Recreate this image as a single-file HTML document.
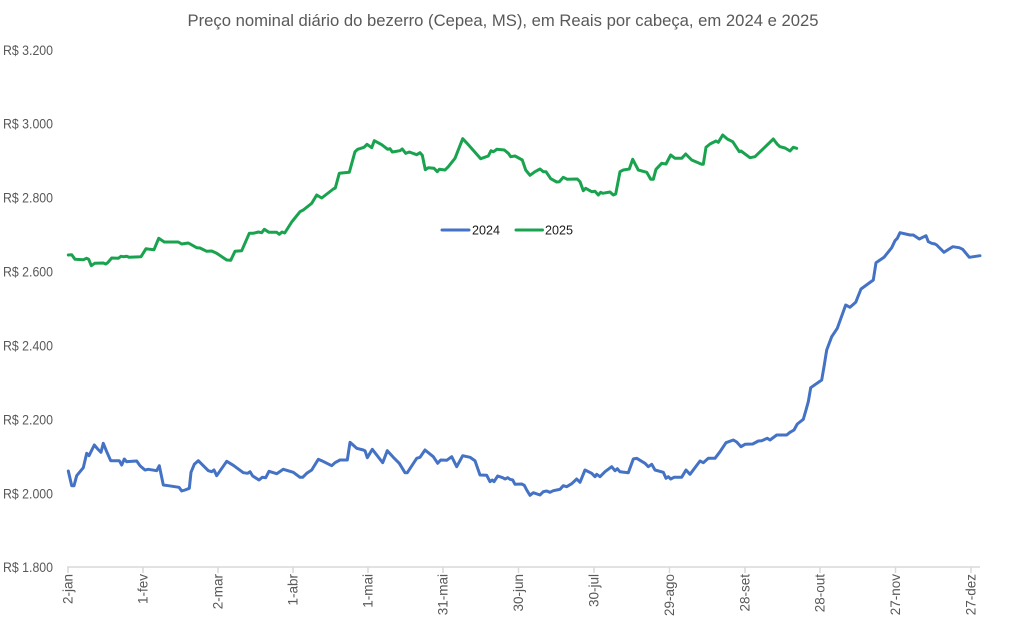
<!DOCTYPE html>
<html>
<head>
<meta charset="utf-8">
<style>
  html, body { margin: 0; padding: 0; background: #ffffff; }
  svg { display: block; }
  text { font-family: "Liberation Sans", "DejaVu Sans", sans-serif; fill: #595959; }
</style>
</head>
<body>
<svg width="1011" height="629" viewBox="0 0 1011 629" xmlns="http://www.w3.org/2000/svg">
  <rect x="0" y="0" width="1011" height="629" fill="#ffffff"/>

  <!-- Title -->
  <text x="503" y="26" font-size="16.5" text-anchor="middle" textLength="631" lengthAdjust="spacingAndGlyphs">Preço nominal diário do bezerro (Cepea, MS), em Reais por cabeça, em 2024 e 2025</text>

  <!-- Y axis labels -->
  <g font-size="14" text-anchor="end">
    <text x="53" y="54.8" textLength="50" lengthAdjust="spacingAndGlyphs">R$ 3.200</text>
    <text x="53" y="128.7" textLength="50" lengthAdjust="spacingAndGlyphs">R$ 3.000</text>
    <text x="53" y="202.6" textLength="50" lengthAdjust="spacingAndGlyphs">R$ 2.800</text>
    <text x="53" y="276.5" textLength="50" lengthAdjust="spacingAndGlyphs">R$ 2.600</text>
    <text x="53" y="350.4" textLength="50" lengthAdjust="spacingAndGlyphs">R$ 2.400</text>
    <text x="53" y="424.4" textLength="50" lengthAdjust="spacingAndGlyphs">R$ 2.200</text>
    <text x="53" y="498.3" textLength="50" lengthAdjust="spacingAndGlyphs">R$ 2.000</text>
    <text x="53" y="572.2" textLength="50" lengthAdjust="spacingAndGlyphs">R$ 1.800</text>
  </g>

  <!-- X axis line and ticks -->
  <g stroke="#d9d9d9" stroke-width="1.5" fill="none">
    <line x1="67" y1="567" x2="980" y2="567"/>
    <line x1="68" y1="567" x2="68" y2="573"/>
    <line x1="143" y1="567" x2="143" y2="573"/>
    <line x1="218" y1="567" x2="218" y2="573"/>
    <line x1="293" y1="567" x2="293" y2="573"/>
    <line x1="368" y1="567" x2="368" y2="573"/>
    <line x1="443" y1="567" x2="443" y2="573"/>
    <line x1="518.5" y1="567" x2="518.5" y2="573"/>
    <line x1="594" y1="567" x2="594" y2="573"/>
    <line x1="669.5" y1="567" x2="669.5" y2="573"/>
    <line x1="745" y1="567" x2="745" y2="573"/>
    <line x1="820" y1="567" x2="820" y2="573"/>
    <line x1="895.5" y1="567" x2="895.5" y2="573"/>
    <line x1="971" y1="567" x2="971" y2="573"/>
  </g>

  <!-- X axis labels (rotated) -->
  <g font-size="13.5" text-anchor="end">
    <text transform="translate(72.5,574) rotate(-90)">2-jan</text>
    <text transform="translate(147.5,574) rotate(-90)">1-fev</text>
    <text transform="translate(222.5,574) rotate(-90)">2-mar</text>
    <text transform="translate(297.5,574) rotate(-90)">1-abr</text>
    <text transform="translate(372.5,574) rotate(-90)">1-mai</text>
    <text transform="translate(447.5,574) rotate(-90)">31-mai</text>
    <text transform="translate(523,574) rotate(-90)">30-jun</text>
    <text transform="translate(598.5,574) rotate(-90)">30-jul</text>
    <text transform="translate(674,574) rotate(-90)">29-ago</text>
    <text transform="translate(749.5,574) rotate(-90)">28-set</text>
    <text transform="translate(824.5,574) rotate(-90)">28-out</text>
    <text transform="translate(900,574) rotate(-90)">27-nov</text>
    <text transform="translate(975.5,574) rotate(-90)">27-dez</text>
  </g>

  <!-- 2025 series (green) -->
  <polyline fill="none" stroke="#1aa34f" stroke-width="3" stroke-linejoin="round" stroke-linecap="round"
    points="68.3,255 71.7,254.7 75,259.3 83.3,259.7 86.7,258.3 88.7,259.3 91.3,265.7 94.7,263.3 103.3,263 105.7,264 107.7,262.7 111.7,258 118.3,258.3 121,256.3 123.3,256.7 126.7,256.3 129.3,257.3 141,256.7 146,248.7 150,249.3 154,249.7 158.7,238.3 164.3,242 178.3,242 181.7,244 188.3,243 196.7,247.7 200,248 206.7,251.3 211.7,251 216.7,253.3 226.7,260 230.7,260.3 235,251.3 241.7,250.7 249.3,233.3 253.3,233.3 258.3,232 261.7,232.7 264.3,229.3 269,232.3 276.7,232.3 279.3,234.3 282,232 284.7,233 291.7,222 300,211.7 303.3,210 311.7,203.3 316.7,195 321.7,198 333.3,189 335.3,188 339.3,173.3 349.3,172.3 355,151.7 357.7,149.3 364,147.3 367,144.3 371.7,147.7 374.3,140.7 381.7,144.7 387.7,149.3 390,148.7 392.3,152 400,150.7 402.3,149 405.7,153.3 409.3,152 416.7,154.7 420,152.7 422.3,155.3 425.3,169.7 428.3,167.7 434,168.3 437.3,171.7 439.3,169.3 445,170 448.3,166.7 455,158.3 462.7,138.7 467.7,144 480.7,158.7 488.3,156 491,150.7 493.3,151.7 495,150.7 496.7,149.3 504.3,150 508.3,153.3 510.7,156.7 515,156 522.3,160 525.7,170 530,175.3 535,171.7 540,169 543.3,171.7 546,171.7 550.7,178.7 556.7,182 559.3,181.7 563.3,177.3 567.3,179.3 577.3,179 580,181.7 583.3,190.7 585.7,188.3 591.7,191.7 595,191.3 598.3,195 600.7,192.3 602.7,193.3 610,192 613.3,195 615.7,194 620,171.7 623.3,170 629.3,169 632.7,159.3 638.3,170 646.7,172.3 650.7,179.3 653.3,179.3 656,169.3 661.7,163.3 666,164 670.7,155 675,158.3 681.7,158.3 685.7,154 691.7,160 701.7,164.3 703.3,164.3 706,147.3 710,144 716,141 718.3,142.3 722.7,135 727.3,139 732.7,141.7 739.3,151.7 741,151 750,157.7 755,156.7 773.3,139 777.3,144.3 780,146.7 785,148 790,151 793.3,147.3 796.7,148.3"/>

  <!-- 2024 series (blue) -->
  <polyline fill="none" stroke="#4472c4" stroke-width="3" stroke-linejoin="round" stroke-linecap="round"
    points="68.3,471 71.7,485.7 74,485.7 76.7,475.7 80,471.7 83.3,467.7 86.7,453.3 89,455.7 94.3,445 97.7,449 101,452.3 103.3,443.3 106.7,451.7 110.7,460.7 119.3,460.7 121.7,465 124.3,459 126.7,461.7 136.7,461 140,465.7 145,470 148.3,469.3 156.7,470.7 159.3,465.7 163.3,485 168.3,485.7 179,487.3 181.7,491 185,490 189.3,488.3 191,472.3 194.3,464.3 198.3,460.7 208.3,470.7 211.7,471.7 214,470 216.7,475.7 226.7,461.3 233.3,465.3 243.3,472.7 247.7,473.3 250,471.7 252.7,476 259,480 262.3,477.3 265.7,477.7 269,471.3 276.7,473.7 283.3,469.3 293.3,472.3 300,477.3 302.7,477.3 306.7,473.3 311.7,470 318.3,459.3 321.7,460.7 331.7,465.7 335,462.7 340,460 347.3,460 350,442.3 356.7,448.3 363.3,450 365,450.7 367.3,457.7 372.3,449.3 382.7,462.7 387.3,450.7 393.3,457.3 399.3,463.3 405,472.7 407.3,472.7 416.7,458.3 420,457.3 425,450 433.3,456.7 437.7,463.3 440.7,460 446.7,460.3 451.7,456.7 456.7,466.7 462.7,455.7 470,457.3 475,460.7 480,475 486.7,475.3 490,481.7 492.3,480 494,481.7 497.7,476 502.7,477.7 505,479 507.7,477.7 510,479.3 512.7,480 515,484.3 521.7,484 524.3,485.3 526.7,490 530,495.3 533.3,492.7 540,495 543.3,491.7 546.7,491 550,492.3 553.3,490.7 556.7,490 560,489.3 563.3,485.7 566.7,486.7 571.7,483.7 576.7,479 580,482.3 585,470 591.7,473.3 595,476.7 596.7,474.3 600,476.7 605,471.7 611.7,466.7 615,470.7 617.3,468.7 620,471.7 628.3,472.7 633.3,459 636.7,458.3 645,463.3 648.3,466.7 651.7,464.3 655,470 663.3,472.3 666,478.3 668.3,476.7 670.7,479 674,477.3 681.7,477.3 686,470 690,474.3 700,461 703.3,462.7 708.3,458.3 715,458.3 720,451.7 726,442.7 733.3,440 736.7,442 741,446.7 745,444.3 752.7,444 758.3,441 761.7,440.7 767.3,438.3 770,440 776.7,435 786.7,435 790,432.3 794,430 797.3,424 803.3,419.3 806,410 808.3,401.7 810.7,387.7 821.7,380 824,366.7 826.7,350 831.7,336.7 837.3,328.3 845.7,305 850,307.3 855.7,302.3 861,289 873.3,280 876,262.7 880,260 884,257.3 891.7,247.7 895,240.7 897.3,238.3 900,232.7 910,235 913.3,235 919.3,239 926,235.7 928.3,241.7 931.7,243.3 935,244 936.7,245 944,252.3 952.7,246.7 959.3,247.7 962.7,249.3 969.3,257.3 980,255.7"/>

  <!-- Legend -->
  <line x1="442" y1="230" x2="469" y2="230" stroke="#4472c4" stroke-width="3" stroke-linecap="round"/>
  <text x="472" y="234.5" font-size="12.5" style="fill:#1a1a1a" textLength="28" lengthAdjust="spacingAndGlyphs">2024</text>
  <line x1="516" y1="230" x2="542.5" y2="230" stroke="#1aa34f" stroke-width="3" stroke-linecap="round"/>
  <text x="545" y="234.5" font-size="12.5" style="fill:#1a1a1a" textLength="28" lengthAdjust="spacingAndGlyphs">2025</text>
</svg>
</body>
</html>
